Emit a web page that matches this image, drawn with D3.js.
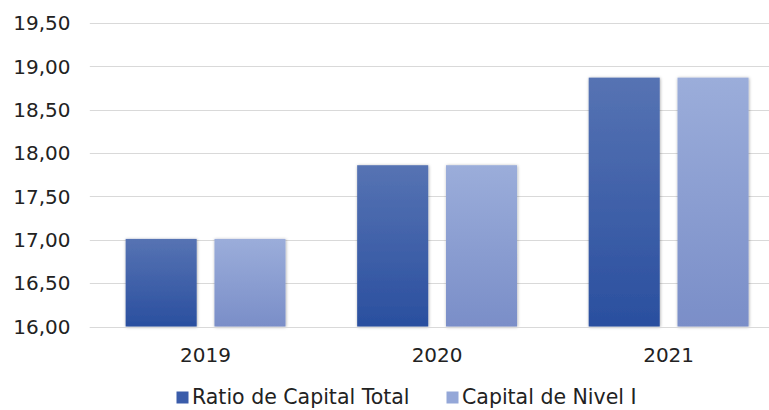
<!DOCTYPE html>
<html>
<head>
<meta charset="utf-8">
<script src="https://cdn.jsdelivr.net/npm/d3@7"></script>
<style>
  html, body { margin: 0; padding: 0; background: #fff; }
  svg { display: block; }
  text { font-family: "DejaVu Sans", Verdana, sans-serif; fill: #222; }
</style>
</head>
<body>
<svg id="chart" width="769" height="410"></svg>
<script>
const categories = ["2019", "2020", "2021"];
const seriesNames = ["Ratio de Capital Total", "Capital de Nivel I"];
const ratioCapitalTotal = [17.01, 17.86, 18.87];
const capitalNivelI = [17.01, 17.86, 18.87];
const yTicks = [16.0, 16.5, 17.0, 17.5, 18.0, 18.5, 19.0, 19.5];

const seriesValues = [ratioCapitalTotal, capitalNivelI];
const W = 769, H = 410;
const svg = d3.select("#chart");
const plot = { left: 89.8, right: 784.4, top: 23, bottom: 326.5 };

const defs = svg.append("defs");
const grads = [
  { id: "g0", top: "#5673b3", bottom: "#2a4f9f" },
  { id: "g1", top: "#9badda", bottom: "#7a8ec8" }
];
grads.forEach(g => {
  const lg = defs.append("linearGradient").attr("id", g.id)
    .attr("x1", 0).attr("y1", 0).attr("x2", 0).attr("y2", 1);
  lg.append("stop").attr("offset", "0%").attr("stop-color", g.top);
  lg.append("stop").attr("offset", "100%").attr("stop-color", g.bottom);
});
const f = defs.append("filter").attr("id", "shadow")
  .attr("x", "-20%").attr("y", "-20%").attr("width", "140%").attr("height", "140%");
f.append("feDropShadow").attr("dx", 0.5).attr("dy", 0.5).attr("stdDeviation", 1.6)
  .attr("flood-color", "#000").attr("flood-opacity", 0.35);

const y = d3.scaleLinear().domain([16, 19.5]).range([plot.bottom, plot.top]);
const x0 = d3.scaleBand().domain(categories).range([plot.left, plot.right])
  .paddingInner(0.3095).paddingOuter(0.1548);
const x1 = d3.scaleBand().domain(d3.range(seriesNames.length))
  .range([0, x0.bandwidth()]).paddingInner(0.2);

// gridlines
svg.append("g").selectAll("line").data(yTicks).join("line")
  .attr("x1", plot.left).attr("x2", W)
  .attr("y1", d => Math.round(y(d)) + 0.5).attr("y2", d => Math.round(y(d)) + 0.5)
  .attr("stroke", "#d9d9d9").attr("stroke-width", 1);

// y axis labels
const fmt = d => d.toFixed(2).replace(".", ",");
svg.append("g").selectAll("text").data(yTicks).join("text")
  .attr("x", 70.5).attr("y", d => y(d))
  .attr("dy", "0.36em")
  .attr("text-anchor", "end")
  .style("font-size", "20px")
  .text(fmt);

// bars
const groups = svg.append("g").selectAll("g").data(categories).join("g")
  .attr("transform", c => `translate(${x0(c)},0)`);
groups.selectAll("rect").data((c, i) => seriesValues.map((s, k) => ({ k, v: s[i] })))
  .join("rect")
  .attr("x", d => x1(d.k))
  .attr("width", x1.bandwidth())
  .attr("y", d => y(d.v))
  .attr("height", d => y(16) - y(d.v))
  .attr("fill", d => `url(#g${d.k})`)
  .attr("filter", "url(#shadow)");

// baseline on top
svg.append("line")
  .attr("x1", plot.left).attr("x2", W)
  .attr("y1", Math.round(y(16)) + 0.5).attr("y2", Math.round(y(16)) + 0.5)
  .attr("stroke", "#d9d9d9");

// x labels
svg.append("g").selectAll("text").data(categories).join("text")
  .attr("x", c => x0(c) + x0.bandwidth() / 2)
  .attr("y", 361.5)
  .attr("text-anchor", "middle")
  .style("font-size", "20px")
  .text(c => c);

// legend
const legendColors = ["#3a5caa", "#94a7d8"];
const legendX = [176.5, 446.5];
const lg = svg.append("g").selectAll("g").data(seriesNames).join("g")
  .attr("transform", (d, i) => `translate(${legendX[i]},0)`);
lg.append("rect").attr("x", 0).attr("y", 391.5).attr("width", 12).attr("height", 12)
  .attr("fill", (d, i) => legendColors[i]);
lg.append("text").attr("x", 15.5).attr("y", 404)
  .style("font-size", "20.5px")
  .text(d => d);
</script>
</body>
</html>
